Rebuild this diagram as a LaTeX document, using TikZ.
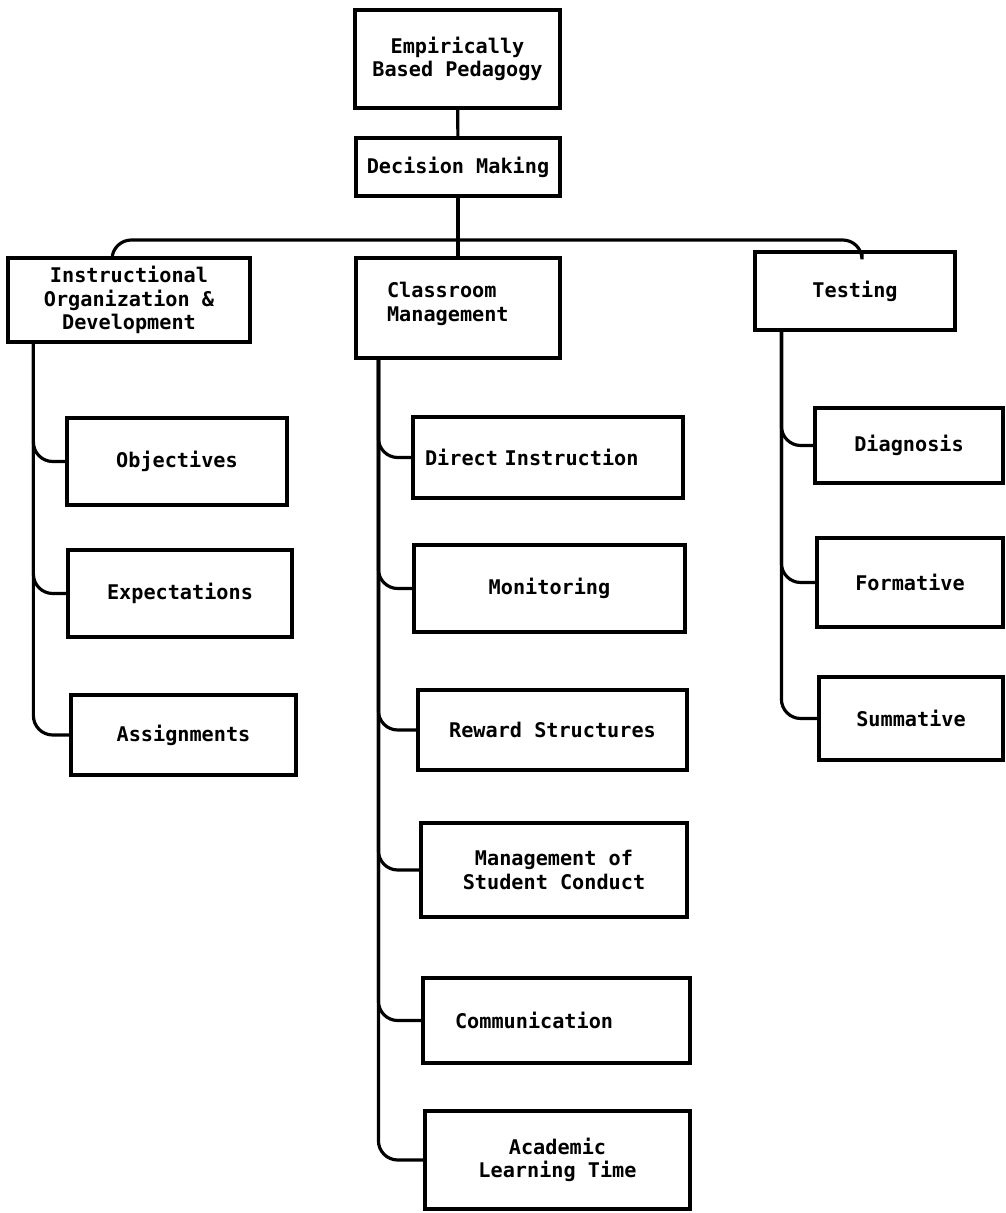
\documentclass[tikz,border=0pt]{standalone}
\usepackage{fontspec}
\setmonofont{DejaVu Sans Mono}
\usetikzlibrary{calc}

\begin{document}
\begin{tikzpicture}[x=0.02cm, y=-0.02cm,
                    every node/.style={font=\ttfamily\bfseries\fontsize{11.5}{13.5}\selectfont, align=center},
                    pbox/.style 2 args={draw, line width=1.8pt, inner sep=0pt,
                                        minimum width=#1*0.02cm, minimum height=#2*0.02cm},
                    conn/.style={line width=1.8pt, rounded corners=11pt}]

  \useasboundingbox (0,0) rectangle (1006,1213);

  %% top of the tree
  \node[pbox={205}{98}] (emp) at (457.5,59) {Empirically\\Based Pedagogy};
  \node[pbox={204}{58}] (dm) at (458,167) {Decision Making};

  %% the three branches
  \node[pbox={242}{84}] (instr) at (129,300)
    {Instructional\\Organization \&\\Development};
  \node[pbox={204}{100}, text width=2.84cm, align=left, text depth=0.72cm] (cm) at (458,308)
    {Classroom\\Management};
  \node[pbox={200}{78}] (test) at (855,291) {Testing};

  %% under Instructional Organization
  \node[pbox={220}{87}] (obj) at (177,461.5) {Objectives};
  \node[pbox={224}{87}] (exp) at (180,593.5) {Expectations};
  \node[pbox={225}{80}] (asg) at (183.5,735) {Assignments};

  %% under Classroom Management
  \node[pbox={270}{81}, text width=4.92cm, align=left] (di) at (548,457.5) {Direct Instruction};
  \node[pbox={271}{87}] (mon) at (549.5,588.5) {Monitoring};
  \node[pbox={269}{80}] (rew) at (552.5,730) {Reward Structures};
  \node[pbox={266}{94}] (msc) at (554,870) {Management of\\Student Conduct};
  \node[pbox={267}{85}, text width=4.06cm, align=left] (com) at (556.5,1020.5) {Communication};
  \node[pbox={265}{98}] (alt) at (557.5,1160) {Academic\\Learning Time};

  %% under Testing
  \node[pbox={188}{75}] (diag) at (909,445.5) {Diagnosis};
  \node[pbox={186}{89}] (form) at (910,582.5) {Formative};
  \node[pbox={184}{83}] (summ) at (911,718.5) {Summative};

  %% connectors
  \coordinate (bar) at (458,240);
  \draw[conn] (emp) -- (dm);
  \draw[conn] (dm.south) -- (cm.north);
  \draw[conn] ([xshift=-0.34cm]instr.north) |- (bar) -| ([xshift=0.14cm]test.north);

  \coordinate (ti) at ([xshift=0.54cm]instr.south west);
  \coordinate (tc) at ([xshift=0.48cm]cm.south west);
  \coordinate (tt) at ([xshift=0.56cm]test.south west);

  \foreach \n in {obj,exp,asg}
    \draw[conn] (ti) |- (\n.west);
  \foreach \n in {di,mon,rew,msc,com,alt}
    \draw[conn] (tc) |- (\n.west);
  \foreach \n in {diag,form,summ}
    \draw[conn] (tt) |- (\n.west);

\end{tikzpicture}
\end{document}
